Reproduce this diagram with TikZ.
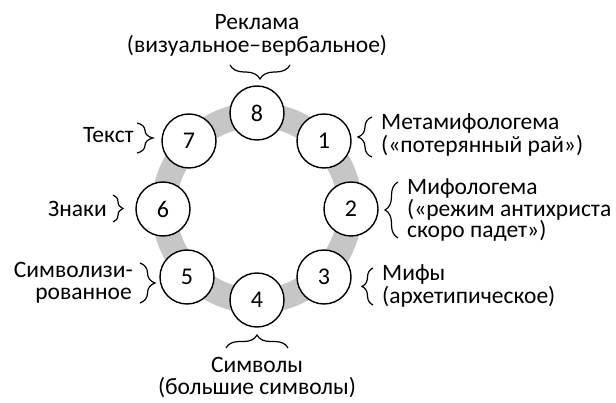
\documentclass[tikz,border=0pt]{standalone}
\usepackage{fontspec}
\setmainfont{Carlito}
\usetikzlibrary{decorations.pathreplacing}
\begin{document}
\begin{tikzpicture}[x=1pt,y=-1pt,
  num/.style={circle,draw,line width=1.4pt,fill=white,minimum size=54pt,inner sep=0pt,font=\fontsize{24}{24}\selectfont},
  lbl/.style={font=\fontsize{23.5}{23}\selectfont,inner sep=0pt,text height=14pt,text depth=4pt},
  brc/.style={decorate,decoration={brace,amplitude=#1},line width=1.2pt}]
\useasboundingbox (0,0) rectangle (616,403);
\draw[gray!45,line width=25pt] (257,208) circle[radius=93];
\node[num] (n8) at (257,113) {8};
\node[num] (n1) at (324,141) {1};
\node[num] (n2) at (351,209) {2};
\node[num] (n3) at (324,277) {3};
\node[num] (n4) at (257,300) {4};
\node[num] (n5) at (187,277) {5};
\node[num] (n6) at (163,209) {6};
\node[num] (n7) at (189,141) {7};
% labels
\node[lbl,anchor=base] (t8a) at (257,30) {Реклама};
\node[lbl,anchor=base] (t8b) at (257,53) {(визуальное–вербальное)};
\node[lbl,anchor=base west] (t1a) at (381,130) {Метамифологема};
\node[lbl,anchor=base west] (t1b) at (381,153) {(«потерянный рай»)};
\node[lbl,anchor=base west] (t2a) at (407,195) {Мифологема};
\node[lbl,anchor=base west] (t2b) at (407,216.5) {(«режим антихриста};
\node[lbl,anchor=base west] (t2c) at (407,238) {скоро падет»)};
\node[lbl,anchor=base west] (t3a) at (382,281) {Мифы};
\node[lbl,anchor=base west] (t3b) at (382,304) {(архетипическое)};
\node[lbl,anchor=base] (t4a) at (257,373) {Символы};
\node[lbl,anchor=base] (t4b) at (257,395) {(большие символы)};
\node[lbl,anchor=base east] (t5a) at (133,278) {Символизи-};
\node[lbl,anchor=base east] (t5b) at (132,300) {рованное};
\node[lbl,anchor=base east] (t6) at (107,217) {Знаки};
\node[lbl,anchor=base east] (t7) at (134,143) {Текст};
% braces
\draw[brc=14] (290,65) -- (230,65);
\draw[brc=14] (372,157) -- (372,117);
\draw[brc=13] (398,238) -- (398,182);
\draw[brc=11] (373,305) -- (373,268);
\draw[brc=13] (226,348) -- (288,348);
\draw[brc=15] (140,263) -- (140,303);
\draw[brc=10] (113,195) -- (113,222);
\draw[brc=16] (137,123) -- (137,153);
\end{tikzpicture}
\end{document}
